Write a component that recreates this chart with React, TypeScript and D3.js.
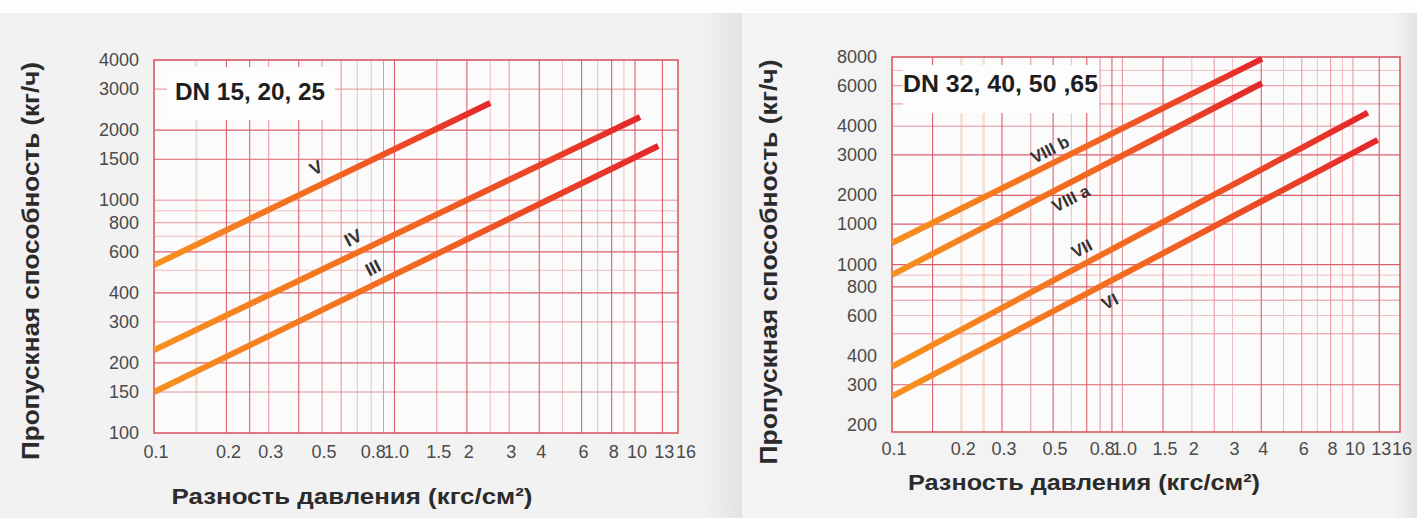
import React from 'react';
import * as d3 from 'd3';

const W = 1417;
const H = 518;

// ---------- shared x axis ----------
const xTickValues = [0.1, 0.2, 0.3, 0.5, 0.8, 1.0, 1.5, 2, 3, 4, 6, 8, 10, 13, 16];
const xTickLabels = ['0.1', '0.2', '0.3', '0.5', '0.8', '1.0', '1.5', '2', '3', '4', '6', '8', '10', '13', '16'];

// ---------- left chart (DN 15, 20, 25) ----------
const leftYTickValues = [4000, 3000, 2000, 1500, 1000, 800, 600, 400, 300, 200, 150, 100];
const leftYTickLabels = ['4000', '3000', '2000', '1500', '1000', '800', '600', '400', '300', '200', '150', '100'];
const leftGridXStrong = [0.2, 0.25, 0.4, 1, 2, 4, 6, 8, 10, 13];
const leftGridXMedium = [0.3, 0.5, 0.6, 0.9, 1.5, 3];
const leftGridXLight = [0.7, 0.8, 2.5, 5, 7, 9];
const leftGridXFaint = [0.15];
const leftGridYStrong = [200, 400, 600, 1500, 2000];
const leftGridYMedium = [150, 300, 800, 1000, 3000];
const leftGridYLight = [500, 700, 900];

const seriesIII: [number, number][] = [[0.1, 150], [12.5, 1709]];
const seriesIV: [number, number][] = [[0.1, 227], [10.5, 2277]];
const seriesV: [number, number][] = [[0.1, 526], [2.5, 2614]];
const leftSeriesNames = ['III', 'IV', 'V'];
const leftLabelAt: [number, number][] = [[0.815, 511], [0.673, 688], [0.472, 1374]];

// ---------- right chart (DN 32, 40, 50 ,65) ----------
const rightYTickValues = [8000, 6000, 4000, 3000, 2000, 1500, 1000, 800, 600, 400, 300, 200];
const rightYTickLabels = ['8000', '6000', '4000', '3000', '2000', '1000', '1000', '800', '600', '400', '300', '200'];
const rightGridXStrong = [0.15, 0.3, 0.5, 0.7, 0.9, 1.5, 4, 13];
const rightGridXMedium = [0.4, 0.8, 1, 2.5, 6, 8, 10];
const rightGridXLight = [0.6, 2, 3, 5, 7, 9];
const rightGridXFaint = [0.2, 0.25];
const rightGridYStrong = [300, 800, 1000, 1500, 2000, 3000];
const rightGridYMedium = [500, 700, 4000, 5000, 6000];
const rightGridYLight = [600, 900, 7000];

const seriesVI: [number, number][] = [[0.1, 267], [12.8, 3485]];
const seriesVII: [number, number][] = [[0.1, 360], [11.6, 4582]];
const seriesVIIIa: [number, number][] = [[0.1, 902], [4.03, 6150]];
const seriesVIIIb: [number, number][] = [[0.1, 1242], [4.03, 7850]];
const rightSeriesNames = ['VI', 'VII', 'VIII a', 'VIII b'];
const rightLabelAt: [number, number][] = [[0.883, 689], [0.667, 1170], [0.598, 1932], [0.485, 3153]];

const FONT = '"Liberation Sans", Arial, Helvetica, sans-serif';

type ChartProps = {
  id: string;
  xDomain: [number, number];
  xRange: [number, number];
  yDomain: [number, number];
  yRange: [number, number];
  yTicks: number[];
  yLabels: string[];
  gridX: { strong: number[]; medium: number[]; light: number[]; faint: number[] };
  gridY: { strong: number[]; medium: number[]; light: number[] };
  series: [number, number][][];
  names: string[];
  labelAt: [number, number][];
  labelSize: number;
  xLabelBaseline: number;
  dn: { text: string; box: [number, number, number, number]; x: number; y: number; len: number };
  yTitle: { x: number; y: number; len: number };
  xTitle: { x: number; y: number; len: number };
};

function Chart(p: ChartProps) {
  const x = d3.scaleLog().domain(p.xDomain).range(p.xRange);
  const y = d3.scaleLog().domain(p.yDomain).range(p.yRange);
  const [x0, x1] = p.xRange;
  const [yb, yt] = p.yRange;
  const line = d3
    .line<[number, number]>()
    .x((d) => x(d[0]))
    .y((d) => y(d[1]));

  const vLines = (vals: number[], stroke: string, w: number, key: string) =>
    vals.map((v) => (
      <line key={key + v} x1={x(v)} x2={x(v)} y1={yt} y2={yb} stroke={stroke} strokeWidth={w} />
    ));
  const hLines = (vals: number[], stroke: string, w: number, key: string) =>
    vals.map((v) => (
      <line key={key + v} x1={x0} x2={x1} y1={y(v)} y2={y(v)} stroke={stroke} strokeWidth={w} />
    ));

  const [bx, by, bw, bh] = p.dn.box;

  return (
    <g>
      <defs>
        {p.series.map((_, i) => (
          <linearGradient key={i} id={`${p.id}-g${i}`} x1="0" y1="0" x2="1" y2="0">
            <stop offset="0" stopColor="#f7911f" />
            <stop offset="0.55" stopColor="#f26522" />
            <stop offset="1" stopColor="#e4262a" />
          </linearGradient>
        ))}
      </defs>
      <rect x={x0} y={yt} width={x1 - x0} height={yb - yt} fill="#fbfbfb" />
      {vLines(p.gridX.faint, '#f2e0d4', 2.5, 'f')}
      {vLines(p.gridX.light, '#f0bcc1', 1, 'l')}
      {hLines(p.gridY.light, '#f0bcc1', 1, 'hl')}
      {vLines(p.gridX.medium, '#e6929a', 1, 'm')}
      {hLines(p.gridY.medium, '#e6929a', 1, 'hm')}
      {vLines(p.gridX.strong, '#dc606c', 1.1, 's')}
      {hLines(p.gridY.strong, '#dc606c', 1.1, 'hs')}
      <rect x={x0} y={yt} width={x1 - x0} height={yb - yt} fill="none" stroke="#d94f5c" strokeWidth={1.5} />
      <rect x={bx} y={by} width={bw} height={bh} fill="#fdfdfd" />
      <text
        x={p.dn.x}
        y={p.dn.y}
        fontFamily={FONT}
        fontWeight="bold"
        fontSize={24}
        fill="#1e1e1e"
        textLength={p.dn.len}
        lengthAdjust="spacingAndGlyphs"
      >
        {p.dn.text}
      </text>
      {p.series.map((s, i) => (
        <path key={i} d={line(s) || ''} fill="none" stroke={`url(#${p.id}-g${i})`} strokeWidth={6} />
      ))}
      {p.names.map((n, i) => (
        <text
          key={n}
          transform={`translate(${x(p.labelAt[i][0])},${y(p.labelAt[i][1])}) rotate(-27)`}
          textAnchor="middle"
          dominantBaseline="central"
          fontFamily={FONT}
          fontWeight="bold"
          fontSize={p.labelSize}
          fill="#333"
        >
          {n}
        </text>
      ))}
      {p.yTicks.map((v, i) => (
        <text
          key={'yt' + i}
          x={x0 - 15}
          y={y(v)}
          textAnchor="end"
          dominantBaseline="central"
          fontFamily={FONT}
          fontSize={18}
          fill="#4a4a4a"
        >
          {p.yLabels[i]}
        </text>
      ))}
      {xTickValues.map((v, i) => (
        <text
          key={'xt' + i}
          x={x(v) + 2}
          y={p.xLabelBaseline}
          textAnchor="middle"
          fontFamily={FONT}
          fontSize={18}
          fill="#4a4a4a"
        >
          {xTickLabels[i]}
        </text>
      ))}
      <text
        transform={`translate(${p.yTitle.x},${p.yTitle.y}) rotate(-90)`}
        textAnchor="middle"
        fontFamily={FONT}
        fontWeight="bold"
        fontSize={23}
        fill="#2b2b2b"
        textLength={p.yTitle.len}
        lengthAdjust="spacingAndGlyphs"
      >
        Пропускная способность (кг/ч)
      </text>
      <text
        x={p.xTitle.x}
        y={p.xTitle.y}
        textAnchor="middle"
        fontFamily={FONT}
        fontWeight="bold"
        fontSize={22}
        fill="#2b2b2b"
        textLength={p.xTitle.len}
        lengthAdjust="spacingAndGlyphs"
      >
        Разность давления (кгс/см²)
      </text>
    </g>
  );
}

export default function App() {
  return (
    <svg
      width={W}
      height={H}
      viewBox={`0 0 ${W} ${H}`}
      style={{ position: 'absolute', left: 0, top: 0, display: 'block' }}
    >
      <defs>
        <linearGradient id="shadeA" x1="0" y1="0" x2="1" y2="0">
          <stop offset="0" stopColor="#f2f2f2" />
          <stop offset="1" stopColor="#e3e3e3" />
        </linearGradient>
      </defs>
      <rect x={0} y={0} width={W} height={H} fill="#fefefe" />
      <rect x={0} y={13} width={742} height={H - 13} fill="#f2f2f2" />
      <rect x={700} y={13} width={42} height={H - 13} fill="url(#shadeA)" />
      <rect x={742} y={13} width={W - 742} height={H - 13} fill="#f3f3f3" />
      <rect x={1395} y={13} width={22} height={H - 13} fill="url(#shadeA)" />
      <Chart
        id="L"
        xDomain={[0.1, 15.1]}
        xRange={[154, 678]}
        yDomain={[100, 4000]}
        yRange={[433, 60]}
        yTicks={leftYTickValues}
        yLabels={leftYTickLabels}
        gridX={{ strong: leftGridXStrong, medium: leftGridXMedium, light: leftGridXLight, faint: leftGridXFaint }}
        gridY={{ strong: leftGridYStrong, medium: leftGridYMedium, light: leftGridYLight }}
        series={[seriesIII, seriesIV, seriesV]}
        names={leftSeriesNames}
        labelAt={leftLabelAt}
        labelSize={18}
        xLabelBaseline={458}
        dn={{ text: 'DN 15, 20, 25', box: [167, 67, 168, 53], x: 175, y: 100, len: 150 }}
        yTitle={{ x: 39, y: 261, len: 398 }}
        xTitle={{ x: 352, y: 504, len: 361 }}
      />
      <Chart
        id="R"
        xDomain={[0.1, 16]}
        xRange={[892, 1400]}
        yDomain={[187, 8000]}
        yRange={[432, 57]}
        yTicks={rightYTickValues}
        yLabels={rightYTickLabels}
        gridX={{ strong: rightGridXStrong, medium: rightGridXMedium, light: rightGridXLight, faint: rightGridXFaint }}
        gridY={{ strong: rightGridYStrong, medium: rightGridYMedium, light: rightGridYLight }}
        series={[seriesVI, seriesVII, seriesVIIIa, seriesVIIIb]}
        names={rightSeriesNames}
        labelAt={rightLabelAt}
        labelSize={17}
        xLabelBaseline={455}
        dn={{ text: 'DN 32, 40, 50 ,65', box: [903, 65, 196, 48], x: 903, y: 92, len: 195 }}
        yTitle={{ x: 777, y: 262, len: 405 }}
        xTitle={{ x: 1084, y: 490, len: 352 }}
      />
    </svg>
  );
}
